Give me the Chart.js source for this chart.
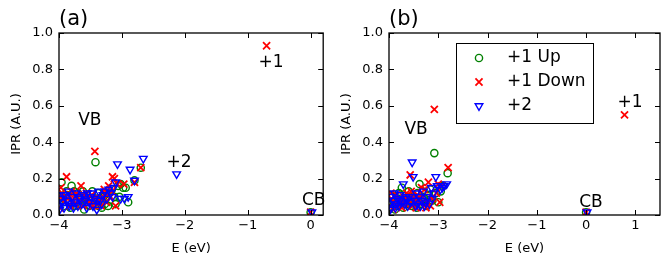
<!DOCTYPE html>
<html lang="en">
<head>
<meta charset="UTF-8">
<title>IPR vs E</title>
<script src="https://cdn.jsdelivr.net/npm/chart.js"></script>
<style>
  body { margin: 0; background: #fff; }
  .panel { position: absolute; top: 0; height: 266px; }
  #panelA { left: 0; width: 330px; }
  #panelB { left: 330px; width: 338px; }
</style>
</head>
<body>
<div class="panel" id="panelA"><canvas id="chartA" width="330" height="266"></canvas></div>
<div class="panel" id="panelB"><canvas id="chartB" width="338" height="266"></canvas></div>
<script>
// series labels (legend order)
var seriesNames = ['+1 Up', '+1 Down', '+2'];

// tick values
var xTicksA = [-4, -3, -2, -1, 0];
var xTicksB = [-4, -3, -2, -1, 0, 1];
var yTicks = [0, 0.2, 0.4, 0.6, 0.8, 1.0];

// panel (a) points: [E (eV), IPR]
var upA = [[-3.98,0.06],[-3.97,0.1],[-3.96,0.18],[-3.93,0.09],[-3.9,0.05],[-3.88,0.13],[-3.87,0.11],[-3.84,0.07],
  [-3.82,0.04],[-3.8,0.16],[-3.78,0.1],[-3.76,0.13],[-3.75,0.05],[-3.72,0.08],[-3.7,0.12],[-3.67,0.06],
  [-3.64,0.09],[-3.62,0.13],[-3.6,0.03],[-3.58,0.07],[-3.55,0.11],[-3.53,0.08],[-3.52,0.05],[-3.5,0.08],
  [-3.47,0.13],[-3.44,0.06],[-3.42,0.29],[-3.4,0.09],[-3.38,0.12],[-3.37,0.05],[-3.34,0.07],[-3.32,0.04],
  [-3.3,0.1],[-3.27,0.06],[-3.24,0.12],[-3.22,0.05],[-3.2,0.08],[-3.16,0.14],[-3.12,0.1],[-3.1,0.06],
  [-3.06,0.16],[-3.04,0.1],[-3.02,0.17],[-2.98,0.15],[-2.94,0.15],[-2.9,0.07],[-2.8,0.19],[-2.7,0.26],[0.0,0.015]];
var downA = [[-3.99,0.04],[-3.98,0.1],[-3.97,0.15],[-3.95,0.12],[-3.92,0.07],[-3.9,0.1],[-3.88,0.21],[-3.86,0.09],
  [-3.83,0.05],[-3.81,0.11],[-3.8,0.13],[-3.77,0.08],[-3.74,0.06],[-3.72,0.12],[-3.71,0.1],[-3.68,0.07],
  [-3.65,0.16],[-3.62,0.05],[-3.6,0.11],[-3.59,0.09],[-3.56,0.12],[-3.53,0.06],[-3.5,0.08],[-3.48,0.11],
  [-3.46,0.05],[-3.43,0.35],[-3.4,0.1],[-3.38,0.06],[-3.36,0.07],[-3.33,0.05],[-3.3,0.09],[-3.28,0.14],
  [-3.27,0.12],[-3.24,0.07],[-3.22,0.11],[-3.21,0.16],[-3.18,0.1],[-3.16,0.13],[-3.15,0.21],[-3.12,0.2],
  [-3.1,0.05],[-3.07,0.17],[-2.97,0.17],[-2.8,0.18],[-2.7,0.26],[-0.7,0.93],[0.0,0.015]];
var twoA = [[-4.0,0.05],[-3.99,0.03],[-3.98,0.09],[-3.95,0.07],[-3.93,0.11],[-3.92,0.04],[-3.9,0.11],[-3.87,0.08],
  [-3.85,0.13],[-3.84,0.05],[-3.82,0.06],[-3.79,0.1],[-3.77,0.04],[-3.76,0.07],[-3.73,0.12],[-3.7,0.05],
  [-3.68,0.1],[-3.67,0.09],[-3.64,0.06],[-3.61,0.11],[-3.58,0.08],[-3.56,0.04],[-3.55,0.12],[-3.52,0.07],
  [-3.49,0.1],[-3.47,0.12],[-3.46,0.05],[-3.43,0.09],[-3.4,0.03],[-3.38,0.08],[-3.37,0.13],[-3.34,0.08],
  [-3.32,0.06],[-3.3,0.11],[-3.27,0.13],[-3.24,0.09],[-3.21,0.14],[-3.18,0.12],[-3.15,0.1],[-3.13,0.15],
  [-3.1,0.18],[-3.07,0.28],[-3.02,0.09],[-2.96,0.09],[-2.9,0.1],[-2.87,0.25],[-2.8,0.19],[-2.66,0.31],
  [-2.13,0.225],[0.02,0.015]];

// panel (b) points: [E (eV), IPR]
var upB = [[-3.99,0.07],[-3.97,0.11],[-3.96,0.04],[-3.93,0.1],[-3.9,0.06],[-3.88,0.03],[-3.87,0.08],[-3.84,0.05],
  [-3.82,0.09],[-3.8,0.12],[-3.77,0.07],[-3.74,0.15],[-3.72,0.06],[-3.71,0.04],[-3.68,0.09],[-3.65,0.06],
  [-3.62,0.1],[-3.6,0.13],[-3.57,0.08],[-3.54,0.05],[-3.52,0.09],[-3.5,0.1],[-3.46,0.07],[-3.44,0.04],
  [-3.42,0.12],[-3.38,0.17],[-3.35,0.06],[-3.32,0.13],[-3.3,0.1],[-3.28,0.09],[-3.24,0.05],[-3.2,0.11],
  [-3.18,0.07],[-3.16,0.14],[-3.12,0.08],[-3.08,0.34],[-3.05,0.12],[-3.0,0.07],[-2.95,0.13],[-2.9,0.16],
  [-2.81,0.23],[0.0,0.015]];
var downB = [[-3.98,0.05],[-3.96,0.12],[-3.95,0.09],[-3.92,0.03],[-3.9,0.06],[-3.88,0.07],[-3.85,0.11],[-3.82,0.05],
  [-3.8,0.09],[-3.78,0.08],[-3.74,0.04],[-3.72,0.08],[-3.7,0.1],[-3.66,0.06],[-3.64,0.12],[-3.62,0.09],
  [-3.57,0.22],[-3.55,0.13],[-3.52,0.05],[-3.5,0.1],[-3.48,0.08],[-3.45,0.04],[-3.42,0.11],[-3.39,0.09],
  [-3.36,0.06],[-3.34,0.15],[-3.32,0.1],[-3.28,0.14],[-3.25,0.04],[-3.22,0.07],[-3.2,0.18],[-3.16,0.05],
  [-3.12,0.09],[-3.08,0.58],[-3.04,0.12],[-3.0,0.17],[-2.97,0.07],[-2.93,0.16],[-2.8,0.26],[0.0,0.015],[0.78,0.55]];
var twoB = [[-4.0,0.06],[-3.98,0.03],[-3.97,0.1],[-3.95,0.04],[-3.92,0.08],[-3.89,0.12],[-3.87,0.04],[-3.86,0.06],
  [-3.83,0.09],[-3.8,0.05],[-3.78,0.08],[-3.77,0.11],[-3.74,0.07],[-3.71,0.17],[-3.68,0.06],[-3.66,0.1],
  [-3.65,0.09],[-3.62,0.05],[-3.59,0.1],[-3.56,0.07],[-3.53,0.29],[-3.51,0.21],[-3.48,0.08],[-3.46,0.05],
  [-3.45,0.12],[-3.42,0.06],[-3.39,0.1],[-3.36,0.05],[-3.33,0.08],[-3.3,0.13],[-3.28,0.05],[-3.26,0.07],
  [-3.22,0.1],[-3.18,0.06],[-3.14,0.15],[-3.12,0.09],[-3.1,0.12],[-3.05,0.21],[-3.02,0.16],[-2.96,0.14],
  [-2.92,0.15],[-2.88,0.16],[-2.83,0.17],[0.02,0.015]];

// text labels inside the plots: [text, E, IPR]
var notesA = [['VB', -3.51, 0.52], ['+1', -0.63, 0.84], ['+2', -2.09, 0.29], ['CB', 0.05, 0.077]];
var notesB = [['VB', -3.45, 0.47], ['+1', 0.89, 0.62], ['CB', 0.10, 0.07]];

var FONT = 'DejaVu Sans';
var tickFont = {family: FONT, size: 13};

function minusLabel(v) {
    return v < 0 ? '\u2212' + Math.abs(v) : String(v);
}

function toXY(pts) {
    return pts.map(function (p) { return {x: p[0], y: p[1]}; });
}

function makeDatasets(up, down, two) {
    return [
        {label: seriesNames[0], data: toXY(up), pointStyle: 'circle', pointRadius: 3.6,
         borderColor: '#008000', backgroundColor: 'rgba(0,0,0,0)', borderWidth: 1.4, order: 3, clip: 0},
        {label: seriesNames[1], data: toXY(down), pointStyle: 'crossRot', pointRadius: 5,
         borderColor: '#ff0000', backgroundColor: 'rgba(0,0,0,0)', borderWidth: 1.8, order: 2, clip: 0},
        {label: seriesNames[2], data: toXY(two), pointStyle: 'triangle', pointRadius: 4.4, pointRotation: 180,
         borderColor: '#0000ff', backgroundColor: 'rgba(0,0,0,0)', borderWidth: 1.4, order: 1, clip: 0}
    ];
}

// frame, inward ticks, panel letter, notes and (optionally) legend box
function decorPlugin(letter, notes, showLegend) {
    return {
        id: 'decor',
        afterDatasetsDraw: function (chart) {
            var ctx = chart.ctx;
            var a = chart.chartArea;
            var xs = chart.scales.x, ys = chart.scales.y;
            var tl = 5;
            ctx.save();
            ctx.strokeStyle = '#000';
            ctx.lineWidth = 1;
            ctx.beginPath();
            xs.ticks.forEach(function (t) {
                var px = Math.round(xs.getPixelForValue(t.value)) + 0.5;
                ctx.moveTo(px, a.bottom); ctx.lineTo(px, a.bottom - tl);
                ctx.moveTo(px, a.top); ctx.lineTo(px, a.top + tl);
            });
            ys.ticks.forEach(function (t) {
                var py = Math.round(ys.getPixelForValue(t.value)) + 0.5;
                ctx.moveTo(a.left, py); ctx.lineTo(a.left + tl, py);
                ctx.moveTo(a.right, py); ctx.lineTo(a.right - tl, py);
            });
            ctx.stroke();
            ctx.lineWidth = 1.3;
            ctx.strokeRect(a.left, a.top, a.right - a.left, a.bottom - a.top);

            ctx.fillStyle = '#000';
            ctx.font = '21px "' + FONT + '"';
            ctx.textAlign = 'left';
            ctx.textBaseline = 'alphabetic';
            ctx.fillText(letter, a.left, 25);

            ctx.font = '17px "' + FONT + '"';
            ctx.textAlign = 'center';
            ctx.textBaseline = 'middle';
            notes.forEach(function (n) {
                ctx.fillText(n[0], xs.getPixelForValue(n[1]), ys.getPixelForValue(n[2]));
            });

            if (showLegend) {
                var bx = a.left + 67, by = 43, bw = 137, bh = 80;
                ctx.fillStyle = '#fff';
                ctx.fillRect(bx, by, bw, bh);
                ctx.lineWidth = 1;
                ctx.strokeStyle = '#000';
                ctx.strokeRect(bx + 0.5, by + 0.5, bw, bh);
                var rows = [58, 82, 106];
                chart.data.datasets.forEach(function (ds, i) {
                    ctx.save();
                    ctx.strokeStyle = ds.borderColor;
                    ctx.fillStyle = 'rgba(0,0,0,0)';
                    ctx.lineWidth = ds.borderWidth;
                    Chart.helpers.drawPoint(ctx, {
                        pointStyle: ds.pointStyle, radius: ds.pointRadius,
                        rotation: ds.pointRotation || 0, borderWidth: ds.borderWidth
                    }, bx + 23, rows[i]);
                    ctx.restore();
                    ctx.fillStyle = '#000';
                    ctx.textAlign = 'left';
                    ctx.textBaseline = 'middle';
                    ctx.fillText(ds.label, bx + 51, rows[i]);
                });
            }
            ctx.restore();
        }
    };
}

function makePanel(id, datasets, xMax, xTicks, rightPad, letter, notes, showLegend) {
    return new Chart(document.getElementById(id), {
        type: 'scatter',
        data: {datasets: datasets},
        options: {
            responsive: false,
            animation: false,
            layout: {padding: {left: 0, right: rightPad, top: 33, bottom: 0}},
            plugins: {legend: {display: false}, tooltip: {enabled: false}},
            scales: {
                x: {
                    type: 'linear', min: -4, max: xMax,
                    grid: {display: false, drawTicks: false},
                    border: {display: false},
                    ticks: {font: tickFont, color: '#000', padding: 3, maxRotation: 0, callback: minusLabel},
                    afterBuildTicks: function (s) { s.ticks = xTicks.map(function (v) { return {value: v}; }); },
                    afterFit: function (s) { s.height = 51; },
                    title: {display: true, text: 'E (eV)', font: tickFont, color: '#000', padding: {top: 0, bottom: 10}}
                },
                y: {
                    type: 'linear', min: 0, max: 1,
                    grid: {display: false, drawTicks: false},
                    border: {display: false},
                    ticks: {font: tickFont, color: '#000', padding: 6, callback: function (v) { return v.toFixed(1); }},
                    afterBuildTicks: function (s) { s.ticks = yTicks.map(function (v) { return {value: v}; }); },
                    afterFit: function (s) { s.width = 59; },
                    title: {display: true, text: 'IPR (A.U.)', font: tickFont, color: '#000', padding: {top: 9, bottom: 0}}
                }
            }
        },
        plugins: [decorPlugin(letter, notes, showLegend)]
    });
}

makePanel('chartA', makeDatasets(upA, downA, twoA), 0.2, xTicksA, 2, '(a)', notesA, false);
makePanel('chartB', makeDatasets(upB, downB, twoB), 1.5, xTicksB, 8, '(b)', notesB, true);
</script>
</body>
</html>
